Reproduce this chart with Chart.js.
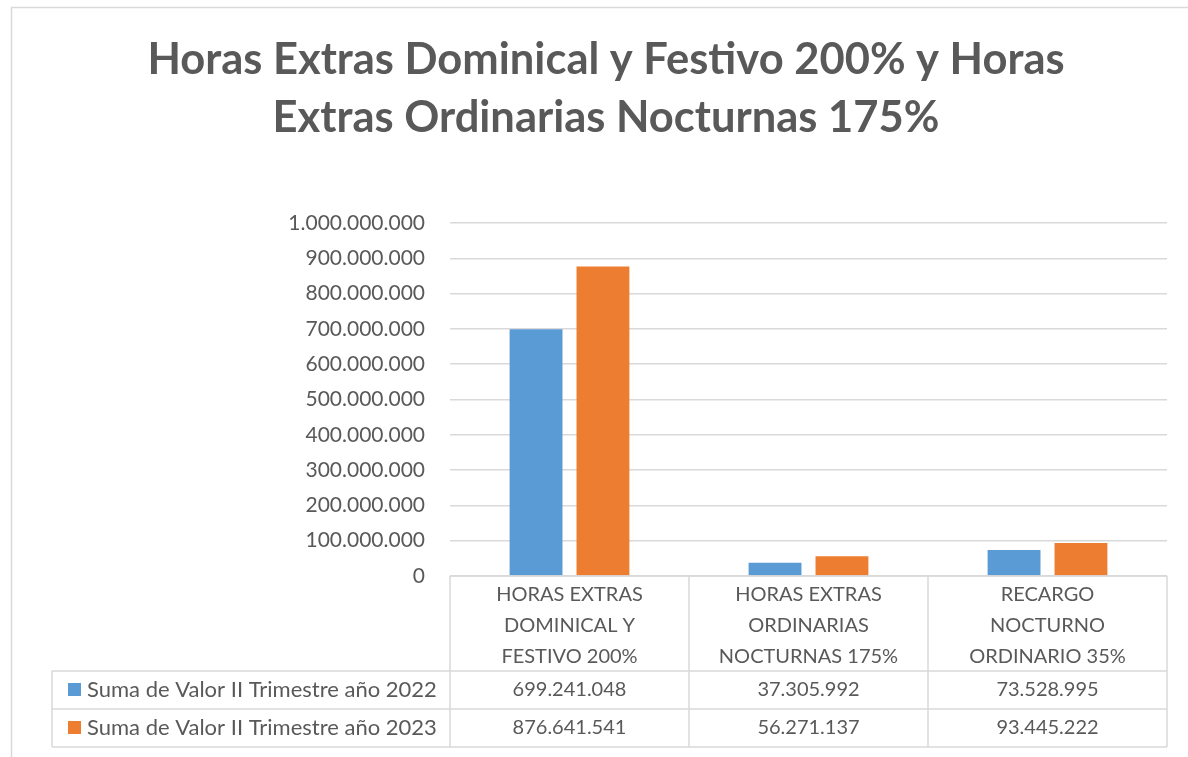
<!DOCTYPE html>
<html>
<head>
<meta charset="utf-8">
<title>Horas Extras</title>
<script src="https://cdn.jsdelivr.net/npm/chart.js"></script>
<style>
  html, body { margin: 0; padding: 0; background: #fff; }
  #wrap { width: 1188px; height: 757px; }
</style>
</head>
<body>
<div id="wrap"><canvas id="chart" width="1188" height="757"></canvas></div>
<script>
// data
const categories = [
  ['HORAS EXTRAS', 'DOMINICAL Y', 'FESTIVO 200%'],
  ['HORAS EXTRAS', 'ORDINARIAS', 'NOCTURNAS 175%'],
  ['RECARGO', 'NOCTURNO', 'ORDINARIO 35%']
];
const seriesNames = ['Suma de Valor II Trimestre año 2022', 'Suma de Valor II Trimestre año 2023'];
const values2022 = [699241048, 37305992, 73528995];
const values2023 = [876641541, 56271137, 93445222];
const colors = ['#5B9BD5', '#ED7D31'];
const titleLines = ['Horas Extras Dominical y Festivo 200% y Horas', 'Extras Ordinarias Nocturnas 175%'];

const textColor = '#595959';
const lineColor = '#d9d9d9';
const fontFamily = 'Lato, "Open Sans", sans-serif';

function fmt(v) {
  return String(Math.round(v)).replace(/\B(?=(\d{3})+(?!\d))/g, '.');
}

// draws the frame, the title and the data table under the plot
const tablePlugin = {
  id: 'dataTable',
  afterDraw(chart) {
    const ctx = chart.ctx;
    const area = chart.chartArea;
    const x = chart.scales.x;
    const colW = (area.right - area.left) / categories.length;
    const tableLeft = 52;
    const headBottom = area.bottom + 95;
    const rowH = 38;
    ctx.save();
    ctx.strokeStyle = lineColor;
    ctx.lineWidth = 1.5;
    // chart frame
    ctx.strokeRect(11.5, 7.5, 1400, 1000);
    // title
    ctx.fillStyle = textColor;
    ctx.textAlign = 'center';
    ctx.textBaseline = 'middle';
    ctx.font = 'bold 43.5px ' + fontFamily;
    titleLines.forEach((t, i) => ctx.fillText(t, 606, 60 + i * 58));
    // table lines
    ctx.beginPath();
    ctx.moveTo(area.left, area.bottom); ctx.lineTo(area.right, area.bottom);
    for (let r = 0; r <= 2; r++) {
      const y = headBottom + r * rowH;
      ctx.moveTo(tableLeft, y); ctx.lineTo(area.right, y);
    }
    for (let c = 0; c <= categories.length; c++) {
      const lx = area.left + c * colW;
      ctx.moveTo(lx, area.bottom); ctx.lineTo(lx, headBottom + 2 * rowH);
    }
    ctx.moveTo(tableLeft, headBottom); ctx.lineTo(tableLeft, headBottom + 2 * rowH);
    ctx.stroke();

    ctx.font = '20px ' + fontFamily;
    // category headers
    categories.forEach((lines, i) => {
      const cx = x.getPixelForValue(i);
      lines.forEach((ln, j) => {
        ctx.fillText(ln, cx, area.bottom + 19 + j * 31);
      });
    });
    // rows
    const rows = [values2022, values2023];
    rows.forEach((vals, r) => {
      const cy = headBottom + r * rowH + rowH / 2;
      ctx.font = '20px ' + fontFamily;
      vals.forEach((v, i) => {
        ctx.fillText(fmt(v), x.getPixelForValue(i), cy);
      });
      ctx.fillStyle = colors[r];
      ctx.fillRect(68, cy - 7, 13, 13);
      ctx.fillStyle = textColor;
      ctx.textAlign = 'left';
      ctx.font = '22px ' + fontFamily;
      ctx.fillText(seriesNames[r], 87, cy);
      ctx.textAlign = 'center';
    });
    ctx.restore();
  }
};

new Chart(document.getElementById('chart'), {
  type: 'bar',
  data: {
    labels: categories,
    datasets: [
      { label: seriesNames[0], data: values2022, backgroundColor: colors[0] },
      { label: seriesNames[1], data: values2023, backgroundColor: colors[1] }
    ]
  },
  options: {
    responsive: false,
    animation: false,
    categoryPercentage: 0.56,
    barPercentage: 0.79,
    layout: { padding: { left: 0, right: 21, top: 223, bottom: 181 } },
    plugins: {
      legend: { display: false },
      tooltip: { enabled: false },
      title: { display: false }
    },
    scales: {
      x: { display: false },
      y: {
        min: 0,
        max: 1000000000,
        ticks: {
          stepSize: 100000000,
          color: textColor,
          font: { family: fontFamily, size: 21 },
          padding: 25,
          callback: v => fmt(v)
        },
        grid: { color: lineColor, lineWidth: 1.5, drawTicks: false },
        border: { display: false },
        afterFit(scale) { scale.width = 450; }
      }
    }
  },
  plugins: [tablePlugin]
});
</script>
</body>
</html>
